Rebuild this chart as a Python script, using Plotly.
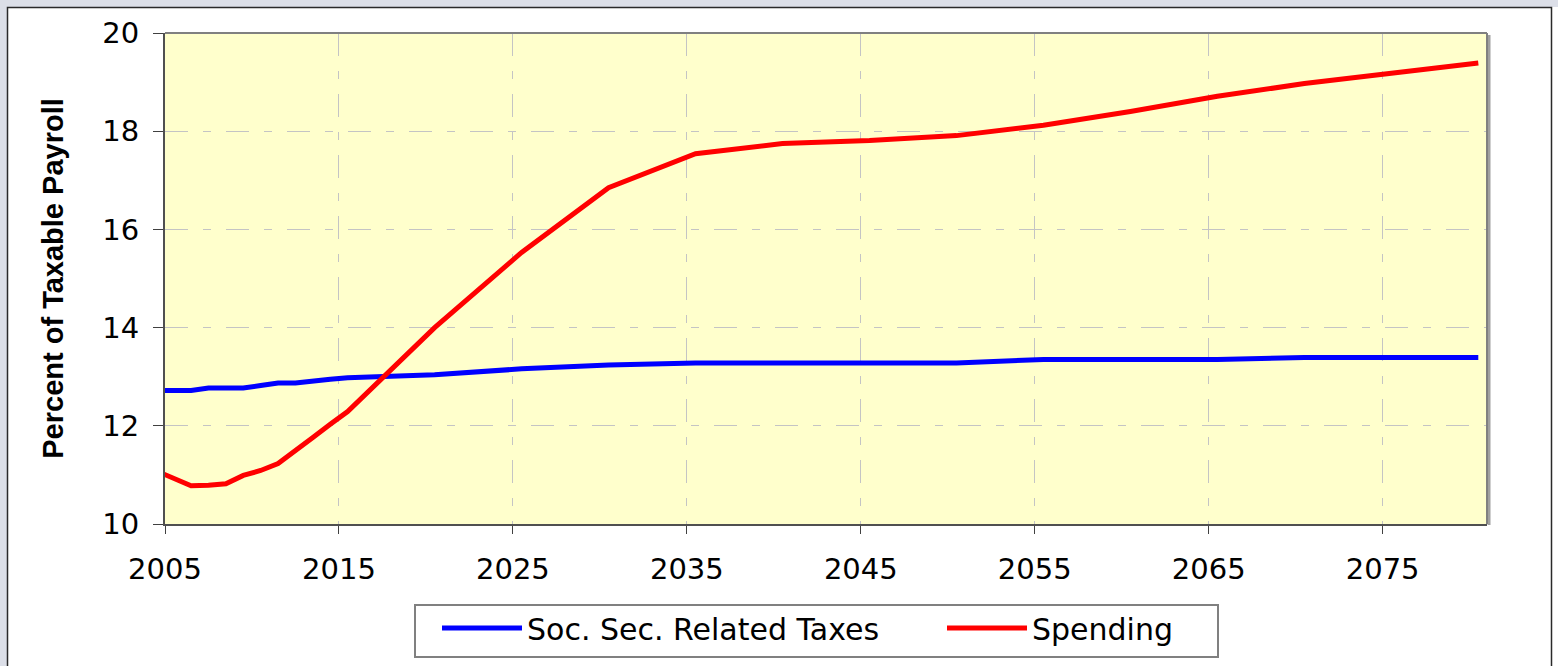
import plotly.graph_objects as go

# ---- data ----
years = [2004, 2005, 2006, 2007, 2008, 2009, 2010, 2011, 2012, 2013, 2014, 2015,
         2020, 2025, 2030, 2035, 2040, 2045, 2050, 2055, 2060, 2065, 2070, 2075, 2080]
taxes = [12.72, 12.72, 12.72, 12.77, 12.77, 12.77, 12.82, 12.87, 12.87, 12.92, 12.95, 12.98,
         13.04, 13.16, 13.24, 13.28, 13.28, 13.28, 13.28, 13.35, 13.35, 13.35, 13.39, 13.39, 13.39]
spending = [11.08, 10.92, 10.78, 10.79, 10.82, 10.99, 11.09, 11.23, 11.51, 11.76, 12.03, 12.29,
            14.00, 15.53, 16.85, 17.54, 17.75, 17.81, 17.91, 18.12, 18.40, 18.71, 18.97, 19.17, 19.39]
series_names = ["Soc. Sec. Related Taxes", "Spending"]
y_title = "Percent of Taxable Payroll"
x_ticks = [2005, 2015, 2025, 2035, 2045, 2055, 2065, 2075]
y_ticks = [10, 12, 14, 16, 18, 20]

# values are mid-year, plotted at the middle of each year
x_mid = [y + 0.5 for y in years]

W, H = 1558, 666
L, R, T, B = 165, 1487, 33, 524


def px_x(p):
    return (p - L) / (R - L)


def px_y(p):
    return (B - p) / (B - T)


fig = go.Figure()
fig.add_trace(go.Scatter(x=x_mid, y=taxes, mode="lines", name=series_names[0],
                         line=dict(color="#0000FF", width=5), legend="legend"))
fig.add_trace(go.Scatter(x=x_mid, y=spending, mode="lines", name=series_names[1],
                         line=dict(color="#FF0000", width=5), legend="legend2"))

grid_dash = "23px,15px,8px,15px"
fig.update_xaxes(range=[2005, 2081], tickvals=x_ticks, ticktext=[str(v) for v in x_ticks],
                 showgrid=True, gridcolor="#C4C4C4", griddash=grid_dash, gridwidth=1.3,
                 ticks="outside", ticklen=8, tickcolor="#404040", tickwidth=1,
                 showline=True, linecolor="#505050", linewidth=2, mirror=False,
                 zeroline=False, ticklabelstandoff=10,
                 tickfont=dict(family="DejaVu Sans", size=29, color="black"))
fig.update_yaxes(range=[10, 20], tickvals=y_ticks,
                 showgrid=True, gridcolor="#C4C4C4", griddash=grid_dash, gridwidth=1.3,
                 ticks="outside", ticklen=10, tickcolor="#404040", tickwidth=1,
                 showline=True, linecolor="#505050", linewidth=2, mirror=False,
                 zeroline=False, ticklabelstandoff=8,
                 tickfont=dict(family="DejaVu Sans", size=29, color="black"),
                 title=dict(text=y_title, standoff=30,
                            font=dict(family="Liberation Sans", size=29, color="black", weight="bold")))

shapes = [
    # outer light frame strips
    dict(type="rect", xref="paper", yref="paper", x0=px_x(0), x1=px_x(W), y0=px_y(7), y1=px_y(0),
         fillcolor="#DCDFE8", line=dict(width=0), layer="below"),
    dict(type="rect", xref="paper", yref="paper", x0=px_x(0), x1=px_x(7), y0=px_y(H), y1=px_y(0),
         fillcolor="#DCDFE8", line=dict(width=0), layer="below"),
    # chart border
    dict(type="rect", xref="paper", yref="paper", x0=px_x(7.5), x1=px_x(1551.5), y0=px_y(H + 20), y1=px_y(7.5),
         fillcolor="rgba(0,0,0,0)", line=dict(color="#2a2a2a", width=1.5), layer="below"),
    # plot area frame (top / right) with shadow
    dict(type="line", xref="paper", yref="paper", x0=0, x1=1, y0=1, y1=1,
         line=dict(color="#808080", width=2)),
    dict(type="line", xref="paper", yref="paper", x0=px_x(R + 2), x1=px_x(R + 2), y0=px_y(B + 1), y1=px_y(T + 2),
         line=dict(color="#A0A0A0", width=3)),
    dict(type="line", xref="paper", yref="paper", x0=1, x1=1, y0=0, y1=1,
         line=dict(color="#808080", width=2)),
    # shared legend box
    dict(type="rect", xref="paper", yref="paper", x0=px_x(415), x1=px_x(1218), y0=px_y(657), y1=px_y(605),
         fillcolor="white", line=dict(color="#808080", width=2), layer="below"),
]

legend_common = dict(orientation="h", yanchor="top", y=px_y(602), xanchor="left",
                     bgcolor="rgba(0,0,0,0)", borderwidth=0,
                     font=dict(family="DejaVu Sans", size=30, color="black"),
                     itemwidth=80)

fig.update_layout(
    width=W, height=H,
    margin=dict(l=L, r=W - R, t=T, b=H - B, autoexpand=False),
    paper_bgcolor="white", plot_bgcolor="#FFFFCC",
    shapes=shapes,
    showlegend=True,
    legend=dict(x=px_x(437), **legend_common),
    legend2=dict(x=px_x(942), **legend_common),
    font=dict(family="DejaVu Sans", color="black"),
)

fig.write_html("out.html", config={"displayModeBar": False},
               post_script="document.body.style.margin='0';document.body.style.padding='0';")
